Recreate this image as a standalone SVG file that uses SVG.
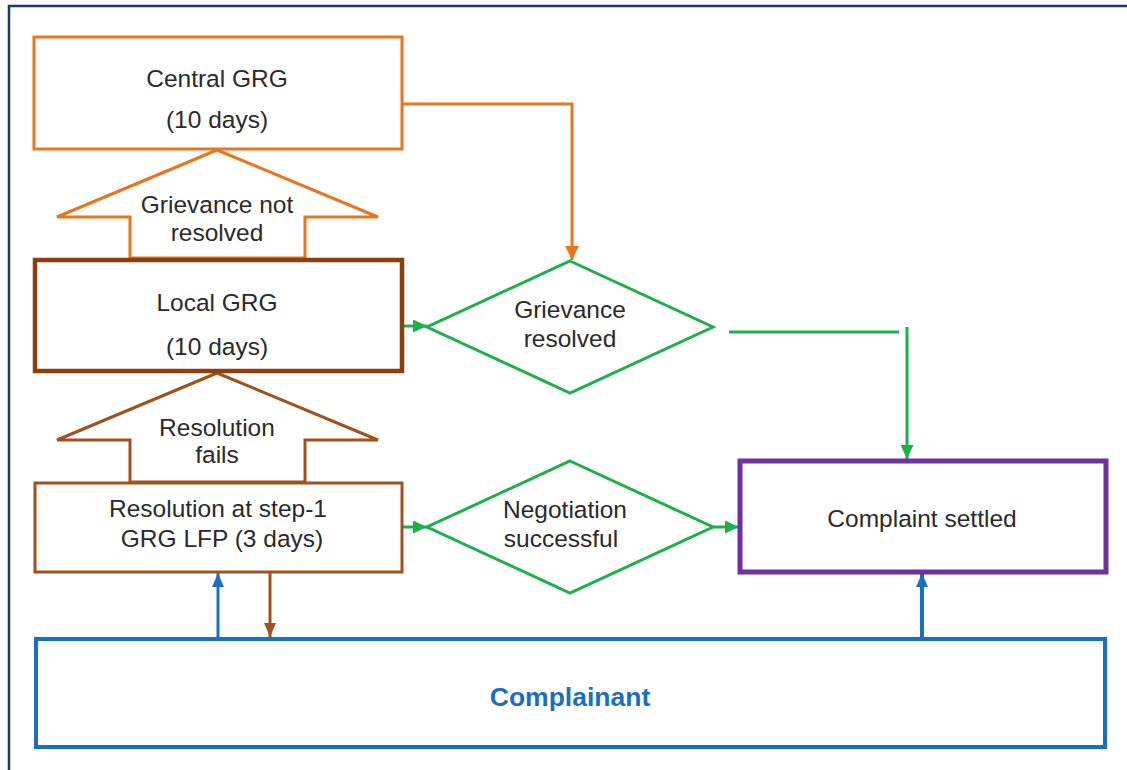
<svg xmlns="http://www.w3.org/2000/svg" width="1127" height="770" viewBox="0 0 1127 770">
  <style>
    .lbl { font-family: "Liberation Sans", Arial, sans-serif; font-size: 24.5px; fill: #2a2a2a; text-anchor: middle; }
    .bold { font-weight: bold; fill: #1a6fc0; font-size: 26.5px; }
    .box { fill: #ffffff; }
    .orange { stroke: #e8761e; }
    .brownD { stroke: #8b3f0d; }
    .brown { stroke: #a0521e; }
    .green { stroke: #1cb04b; }
    .purple { stroke: #7030a0; }
    .blue { stroke: #1a6fc0; }
    .conn { fill: none; }
  </style>
  <defs>
    <marker id="ahOrange" markerUnits="userSpaceOnUse" markerWidth="14" markerHeight="14" viewBox="0 0 14 14" refX="14" refY="7" orient="auto">
      <path d="M0,0 L14,7 L0,14 Z" fill="#e8761e"/>
    </marker>
    <marker id="ahGreen" markerUnits="userSpaceOnUse" markerWidth="14" markerHeight="13" viewBox="0 0 14 13" refX="14" refY="6.5" orient="auto">
      <path d="M0,0 L14,6.5 L0,13 Z" fill="#1cb04b"/>
    </marker>
    <marker id="ahBrown" markerUnits="userSpaceOnUse" markerWidth="14" markerHeight="12" viewBox="0 0 14 12" refX="14" refY="6" orient="auto">
      <path d="M0,0 L14,6 L0,12 Z" fill="#a0521e"/>
    </marker>
    <marker id="ahBlue" markerUnits="userSpaceOnUse" markerWidth="14" markerHeight="12" viewBox="0 0 14 12" refX="14" refY="6" orient="auto">
      <path d="M0,0 L14,6 L0,12 Z" fill="#1a6fc0"/>
    </marker>
  </defs>

  <rect x="0" y="0" width="1127" height="770" fill="#ffffff"/>

  <!-- outer frame -->
  <path d="M9,770 V6 H1127" fill="none" stroke="#1f3864" stroke-width="2.5"/>

  <!-- escalation block arrows -->
  <g id="escalate-central">
    <polygon points="217,150 378,217 305,217 305,258 130,258 130,217 57,217" fill="#ffffff" stroke="#e8761e" stroke-width="3"/>
    <text class="lbl" x="217" y="213">Grievance not</text>
    <text class="lbl" x="217" y="241">resolved</text>
  </g>
  <g id="escalate-local">
    <polygon points="217,373 378,440 305,440 305,482 130,482 130,440 57,440" fill="#ffffff" stroke="#a0521e" stroke-width="3"/>
    <text class="lbl" x="217" y="436">Resolution</text>
    <text class="lbl" x="217" y="463">fails</text>
  </g>

  <!-- connectors -->
  <g id="connectors" class="conn" stroke-width="3">
    <path d="M402,104 H572 V260" class="orange" marker-end="url(#ahOrange)"/>
    <path d="M402,326 H427" class="green" marker-end="url(#ahGreen)"/>
    <path d="M729,332 H899" class="green"/>
    <path d="M907,327 V459" class="green" marker-end="url(#ahGreen)"/>
    <path d="M402,527 H427" class="green" marker-end="url(#ahGreen)"/>
    <path d="M713,527 H739" class="green" marker-end="url(#ahGreen)"/>
    <path d="M218,639 V573" class="blue" marker-end="url(#ahBlue)"/>
    <path d="M270,572 V637" class="brown" marker-end="url(#ahBrown)"/>
    <path d="M922,639 V573" class="blue" stroke-width="4" marker-end="url(#ahBlue)"/>
  </g>

  <g id="central-grg">
    <rect class="box orange" x="34" y="37" width="368" height="112" stroke-width="3"/>
    <text class="lbl" x="217" y="87">Central GRG</text>
    <text class="lbl" x="217" y="128">(10 days)</text>
  </g>

  <g id="local-grg">
    <rect class="box brownD" x="35" y="260" width="367" height="111" stroke-width="4.5"/>
    <text class="lbl" x="217" y="311">Local GRG</text>
    <text class="lbl" x="217" y="355">(10 days)</text>
  </g>

  <g id="step-1">
    <rect class="box brown" x="35" y="483" width="367" height="89" stroke-width="3"/>
    <text class="lbl" x="218" y="517">Resolution at step-1</text>
    <text class="lbl" x="222" y="547">GRG LFP (3 days)</text>
  </g>

  <g id="grievance-resolved">
    <polygon points="570,261 713,327 570,393 427,327" fill="#ffffff" stroke="#1cb04b" stroke-width="3"/>
    <text class="lbl" x="570" y="318">Grievance</text>
    <text class="lbl" x="570" y="347">resolved</text>
  </g>

  <g id="negotiation">
    <polygon points="570,461 713,527 570,593 427,527" fill="#ffffff" stroke="#1cb04b" stroke-width="3"/>
    <text class="lbl" x="565" y="518">Negotiation</text>
    <text class="lbl" x="561" y="547">successful</text>
  </g>

  <g id="complaint-settled">
    <rect class="box purple" x="740" y="461" width="366" height="111" stroke-width="5"/>
    <text class="lbl" x="922" y="527">Complaint settled</text>
  </g>

  <g id="complainant">
    <rect class="box blue" x="36" y="639" width="1069" height="108" stroke-width="4"/>
    <text class="lbl bold" x="570" y="706">Complainant</text>
  </g>
</svg>
